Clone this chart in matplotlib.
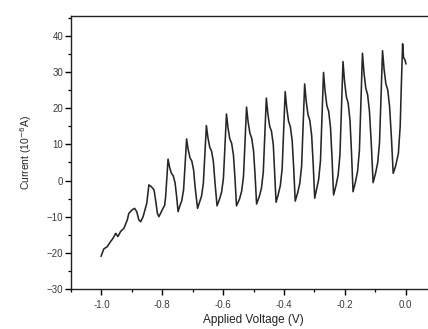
import matplotlib
matplotlib.use("Agg")
from matplotlib import pyplot as plt
from matplotlib.ticker import MultipleLocator

# voltage (V) and current (10^-6 A)
voltage = [
    -1.001, -0.992, -0.981, -0.970, -0.962, -0.953, -0.946, -0.937, -0.926,
    -0.915, -0.910, -0.899, -0.891, -0.884, -0.877, -0.871, -0.863, -0.851,
    -0.844, -0.836, -0.827, -0.822, -0.816, -0.811,
    -0.800, -0.792, -0.789, -0.785,
    -0.781, -0.776, -0.770, -0.764, -0.758, -0.753, -0.748,
    -0.743, -0.736, -0.730, -0.725,
    -0.720, -0.715, -0.709, -0.703, -0.697, -0.692, -0.684,
    -0.678, -0.671, -0.665, -0.660,
    -0.655, -0.650, -0.644, -0.638, -0.632, -0.627, -0.620,
    -0.612, -0.605, -0.599, -0.594,
    -0.589, -0.584, -0.578, -0.572, -0.566, -0.561, -0.556,
    -0.546, -0.539, -0.533, -0.528,
    -0.523, -0.518, -0.512, -0.506, -0.500, -0.495, -0.490,
    -0.481, -0.474, -0.468, -0.463,
    -0.458, -0.453, -0.447, -0.441, -0.435, -0.431, -0.426,
    -0.419, -0.412, -0.406, -0.401,
    -0.396, -0.391, -0.385, -0.379, -0.373, -0.368, -0.363,
    -0.355, -0.348, -0.342, -0.337,
    -0.332, -0.327, -0.321, -0.315, -0.309, -0.304, -0.299,
    -0.293, -0.286, -0.280, -0.275,
    -0.270, -0.265, -0.259, -0.253, -0.247, -0.242, -0.237,
    -0.229, -0.222, -0.216, -0.211,
    -0.206, -0.201, -0.195, -0.189, -0.183, -0.178, -0.173,
    -0.165, -0.158, -0.152, -0.147,
    -0.142, -0.137, -0.131, -0.125, -0.119, -0.113, -0.107,
    -0.099, -0.092, -0.086, -0.081,
    -0.076, -0.071, -0.065, -0.059, -0.053, -0.047, -0.041,
    -0.033, -0.024, -0.018, -0.014,
    -0.010, -0.007, -0.003, 0.001,
]
current = [
    -20.9, -18.9, -18.3, -16.9, -16.0, -14.6, -15.5, -14.1, -13.2,
    -10.9, -9.1, -8.1, -7.7, -8.6, -10.9, -11.4, -10.0, -6.3,
    -1.2, -1.7, -2.6, -5.4, -9.1, -10.0,
    -8.1, -6.8, -4.5, 0.5,
    5.9, 3.7, 2.0, 1.3, -0.6, -4.3, -8.6,
    -7.2, -5.6, -2.6, 4.5,
    11.5, 8.6, 6.3, 5.4, 2.9, -1.9, -7.7,
    -6.1, -4.3, -0.8, 7.2,
    15.2, 11.9, 9.2, 8.1, 5.2, -0.3, -7.0,
    -5.2, -3.2, 0.6, 9.5,
    18.4, 14.6, 11.5, 10.3, 7.0, 0.6, -7.0,
    -5.1, -2.9, 1.2, 10.7,
    20.3, 16.3, 13.1, 11.7, 8.2, 1.5, -6.5,
    -4.4, -2.1, 2.3, 12.5,
    22.8, 18.5, 15.0, 13.6, 9.8, 2.6, -6.0,
    -3.9, -1.4, 3.2, 13.9,
    24.6, 20.1, 16.4, 14.9, 11.0, 3.4, -5.7,
    -3.4, -0.8, 4.0, 15.4,
    26.7, 22.0, 18.2, 16.6, 12.5, 4.6, -4.9,
    -2.5, 0.3, 5.5, 17.7,
    29.9, 24.8, 20.7, 19.1, 14.6, 6.2, -4.0,
    -1.4, 1.5, 7.1, 20.0,
    32.9, 27.5, 23.2, 21.4, 16.7, 7.7, -3.1,
    -0.4, 2.6, 8.4, 21.8,
    35.2, 29.8, 25.5, 23.7, 19.1, 10.1, -0.6,
    2.0, 4.9, 10.4, 23.1,
    35.9, 30.8, 26.7, 25.1, 20.6, 12.2, 2.0,
    4.0, 7.5, 15.0, 27.0,
    37.8, 34.0, 33.5, 32.3,
]

x_ticks = [-1.0, -0.8, -0.6, -0.4, -0.2, 0.0]
x_labels = ["-1.0", "-0.8", "-0.6", "-0.4", "-0.2", "0.0"]
y_ticks = [-30, -20, -10, 0, 10, 20, 30, 40]

plt.rcParams['font.family'] = ['Liberation Sans', 'DejaVu Sans']

fig = plt.figure(figsize=(4.28, 3.29), dpi=100)
# axes run past the right edge, like the cropped original
ax = fig.add_axes([0.1659, 0.1216, 0.853, 0.8298])

ax.plot(voltage, current, color='#262626', lw=1.15)

ax.set_xlim(-1.1, 0.1)
ax.set_ylim(-30, 45.5)
ax.set_xticks(x_ticks)
ax.set_xticklabels(x_labels)
ax.set_yticks(y_ticks)
ax.xaxis.set_minor_locator(MultipleLocator(0.1))
ax.yaxis.set_minor_locator(MultipleLocator(5))

ax.tick_params(which='major', direction='out', length=4, width=1.0,
               labelsize=7, labelcolor='#3a3a3a', pad=1.5)
ax.tick_params(which='minor', direction='out', length=2, width=0.9)
ax.tick_params(axis='x', which='major', pad=4)

for side in ['left', 'bottom', 'top']:
    ax.spines[side].set_linewidth(1.0)
    ax.spines[side].set_color('#222222')
ax.spines['right'].set_visible(False)

ax.set_xlabel('Applied Voltage (V)', fontsize=8.5, color='#222222', labelpad=3)
ax.set_ylabel('Current (10$^{-6}$A)', fontsize=7.5, color='#222222', labelpad=9)

fig.savefig('out.png', dpi=100)
plt.close(fig)
